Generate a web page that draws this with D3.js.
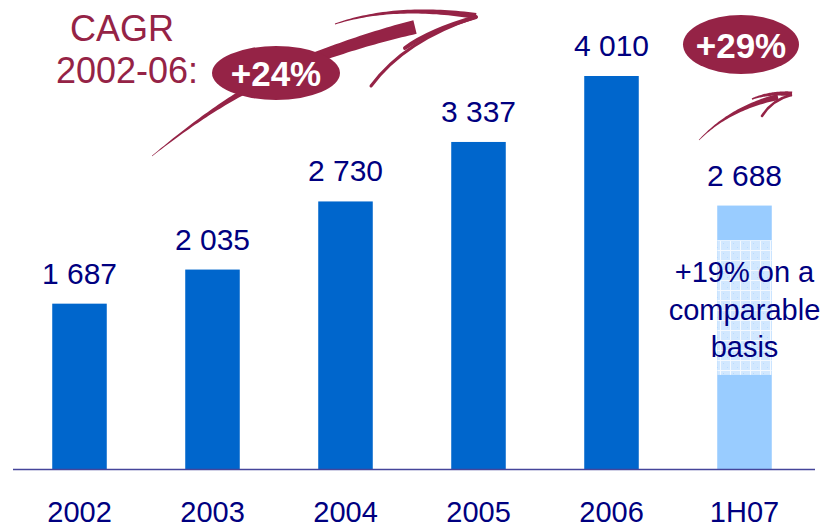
<!DOCTYPE html>
<html>
<head>
<meta charset="utf-8">
<script src="https://cdn.jsdelivr.net/npm/d3@7/dist/d3.min.js"></script>
<style>
  body { margin: 0; background: #fff; }
  svg { display: block; font-family: "Liberation Sans", Arial, sans-serif; }
</style>
</head>
<body>
<svg id="chart" width="834" height="529"></svg>
<script>
// data
var categories = ['2002', '2003', '2004', '2005', '2006', '1H07'];
var values = [1687, 2035, 2730, 3337, 4010, 2688];
var valueLabels = ['1 687', '2 035', '2 730', '3 337', '4 010', '2 688'];
var partial = [false, false, false, false, false, true];
var comparableRange = [960, 2335];   // hatched part of the 1H07 bar
var comparableText = ['+19% on a', 'comparable', 'basis'];
var cagrText = ['CAGR', '2002-06:'];
var cagrValue = '+24%';
var halfYearValue = '+29%';

var blue = '#0066cc',
    lightBlue = '#99ccff',
    navy = '#000080',
    maroon = '#952346';

var svg = d3.select('#chart');

var x = d3.scaleBand()
    .domain(categories)
    .range([13, 811])
    .paddingInner(0.59)
    .paddingOuter(0.295);

var y = d3.scaleLinear()
    .domain([0, 4010])
    .range([469, 76]);

var defs = svg.append('defs');
var pat = defs.append('pattern')
    .attr('id', 'grid')
    .attr('patternUnits', 'userSpaceOnUse')
    .attr('width', 10)
    .attr('height', 10);
pat.append('rect').attr('width', 10).attr('height', 10).attr('fill', '#d2e8ff');
pat.append('path').attr('d', 'M0,0.5 H10 M0.5,0 V10')
    .attr('stroke', '#f4f9ff').attr('stroke-width', 1);
pat.append('rect').attr('x', 3).attr('y', 3).attr('width', 1).attr('height', 1).attr('fill', '#b9dbff');
pat.append('rect').attr('x', 7).attr('y', 7).attr('width', 1).attr('height', 1).attr('fill', '#b9dbff');

// bars
svg.selectAll('rect.bar')
    .data(values)
    .enter().append('rect')
    .attr('class', 'bar')
    .attr('x', function(d, i) { return x(categories[i]); })
    .attr('y', function(d) { return y(d); })
    .attr('width', x.bandwidth())
    .attr('height', function(d) { return y(0) - y(d); })
    .attr('fill', function(d, i) { return partial[i] ? lightBlue : blue; });

// hatched comparable part of the last bar
svg.append('rect')
    .attr('x', x('1H07'))
    .attr('y', y(comparableRange[1]))
    .attr('width', x.bandwidth())
    .attr('height', y(comparableRange[0]) - y(comparableRange[1]))
    .attr('fill', 'url(#grid)');

// value labels
svg.selectAll('text.val')
    .data(values)
    .enter().append('text')
    .attr('class', 'val')
    .attr('x', function(d, i) { return x(categories[i]) + x.bandwidth() / 2; })
    .attr('y', function(d) { return y(d) - 20; })
    .attr('text-anchor', 'middle')
    .attr('font-size', 30)
    .attr('fill', navy)
    .text(function(d, i) { return valueLabels[i]; });

// baseline
svg.append('line')
    .attr('x1', 13).attr('x2', 815)
    .attr('y1', y(0) + 0.5).attr('y2', y(0) + 0.5)
    .attr('stroke', '#45459a')
    .attr('stroke-width', 1.6);

// category labels
var xAxis = svg.append('g')
    .attr('transform', 'translate(0,' + y(0) + ')')
    .call(d3.axisBottom(x).tickSize(0).tickPadding(0));
xAxis.select('.domain').remove();
xAxis.selectAll('text')
    .attr('dy', 0)
    .attr('y', 53)
    .attr('font-size', 29)
    .attr('font-family', '"Liberation Sans", Arial, sans-serif')
    .attr('fill', navy);

// comparable basis text
var cx6 = x('1H07') + x.bandwidth() / 2;
svg.selectAll('text.cmp')
    .data(comparableText)
    .enter().append('text')
    .attr('class', 'cmp')
    .attr('x', cx6)
    .attr('y', function(d, i) { return 282 + i * 37.5; })
    .attr('text-anchor', 'middle')
    .attr('font-size', 29)
    .attr('fill', navy)
    .text(function(d) { return d; });

// tapered brush strokes for the arrows
function brush(p0, p1, p2, w0, w1) {
  var left = [], right = [];
  for (var k = 0; k <= 40; k++) {
    var t = k / 40, u = 1 - t;
    var px = u * u * p0[0] + 2 * u * t * p1[0] + t * t * p2[0];
    var py = u * u * p0[1] + 2 * u * t * p1[1] + t * t * p2[1];
    var dx = 2 * u * (p1[0] - p0[0]) + 2 * t * (p2[0] - p1[0]);
    var dy = 2 * u * (p1[1] - p0[1]) + 2 * t * (p2[1] - p1[1]);
    var len = Math.sqrt(dx * dx + dy * dy) || 1;
    var w = (w0 + (w1 - w0) * t) / 2;
    left.push([px - dy / len * w, py + dx / len * w]);
    right.push([px + dy / len * w, py - dx / len * w]);
  }
  svg.append('path')
    .attr('d', d3.line()(left.concat(right.reverse())) + 'Z')
    .attr('fill', maroon);
}

function curve(p0, p1, p2, w) {
  svg.append('path')
    .attr('d', 'M' + p0 + 'Q' + p1 + ' ' + p2)
    .attr('fill', 'none')
    .attr('stroke', maroon)
    .attr('stroke-width', w)
    .attr('stroke-linecap', 'round');
}

// big arrow
brush([152, 156], [215, 105], [262, 82], 0.5, 7);
brush([255, 82], [340, 45], [415, 27], 9, 14);
brush([335, 24], [395, 4], [476, 16], 1, 6);
curve([476, 17], [405, 40], [371, 86], 3);
curve([476, 17], [430, 30], [405, 48], 4);

// small arrow
brush([699, 140], [730, 108], [778, 97], 0.5, 6);
brush([752, 99], [770, 92], [792, 94], 1.5, 5);
curve([791, 95], [772, 100], [762, 116], 2.5);

// CAGR text
svg.selectAll('text.cagr')
    .data(cagrText)
    .enter().append('text')
    .attr('class', 'cagr')
    .attr('x', function(d, i) { return i === 0 ? 122 : 127; })
    .attr('y', function(d, i) { return 41 + i * 42; })
    .attr('text-anchor', 'middle')
    .attr('font-size', 36)
    .attr('fill', maroon)
    .text(function(d) { return d; });

// bubbles
function bubble(cx, cy, rx, ry, label) {
  svg.append('ellipse')
    .attr('cx', cx).attr('cy', cy)
    .attr('rx', rx).attr('ry', ry)
    .attr('fill', maroon);
  svg.append('text')
    .attr('x', cx).attr('y', cy + 13)
    .attr('text-anchor', 'middle')
    .attr('font-size', 35)
    .attr('font-weight', 'bold')
    .attr('fill', '#ffffff')
    .text(label);
}
bubble(276, 73, 64, 27, cagrValue);
bubble(741, 44.5, 58, 29.5, halfYearValue);
</script>
</body>
</html>
